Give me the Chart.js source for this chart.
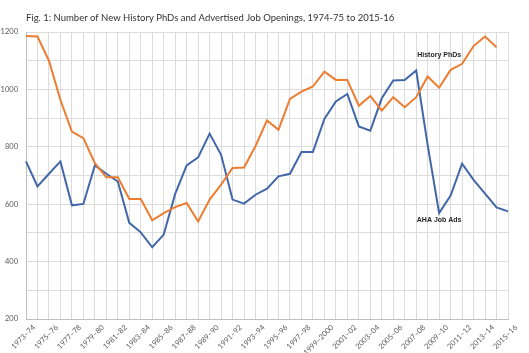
<!DOCTYPE html>
<html>
<head>
<meta charset="utf-8">
<script src="https://cdn.jsdelivr.net/npm/chart.js@4"></script>
<style>
  html, body { margin: 0; padding: 0; background: #fff; }
  #wrap { width: 529px; height: 353px; }
</style>
</head>
<body>
<div id="wrap"><canvas id="jobsChart"></canvas></div>
<script>
// Academic years on the x axis
const years = [
  "1973–74", "1974–75", "1975–76", "1976–77", "1977–78", "1978–79", "1979–80", "1980–81",
  "1981–82", "1982–83", "1983–84", "1984–85", "1985–86", "1986–87", "1987–88", "1988–89",
  "1989–90", "1990–91", "1991–92", "1992–93", "1993–94", "1994–95", "1995–96", "1996–97",
  "1997–98", "1998–99", "1999–2000", "2000–01", "2001–02", "2002–03", "2003–04", "2004–05",
  "2005–06", "2006–07", "2007–08", "2008–09", "2009–10", "2010–11", "2011–12", "2012–13",
  "2013–14", "2014–15", "2015–16"
];

// New history PhDs (ends 2014-15)
const phds = [
  1186, 1184, 1100, 963, 853, 830, 743, 694, 694, 618, 618, 544, 569, 590, 604, 540,
  616, 668, 726, 728, 803, 892, 859, 967, 992, 1010, 1062, 1033, 1033, 943, 977, 926,
  973, 938, 973, 1045, 1006, 1068, 1089, 1151, 1184, 1147, null
];

// AHA job ads
const jobAds = [
  749, 662, 706, 749, 596, 601, 735, 706, 679, 535, 502, 450, 494, 636, 735, 763,
  846, 772, 616, 602, 633, 654, 697, 706, 782, 782, 897, 958, 984, 871, 856, 969,
  1031, 1033, 1066, 806, 569, 630, 741, 685, 637, 589, 575
];

const titleText = "Fig. 1: Number of New History PhDs and Advertised Job Openings, 1974-75 to 2015-16";

// Series name labels placed on the plot (category index, value)
const noteText = ["History PhDs", "AHA Job Ads"];
const noteIndex = [36, 36];
const noteValue = [1118, 544];

// title drawn flush with the plot's left edge, plus the series labels
const chartText = {
  id: 'chartText',
  afterDatasetsDraw(chart) {
    const { ctx, scales, chartArea } = chart;
    ctx.save();
    ctx.font = '9.5px Lato, "Open Sans", sans-serif';
    ctx.fillStyle = '#333333';
    ctx.textAlign = 'left';
    ctx.textBaseline = 'middle';
    ctx.fillText(titleText, chartArea.left, 18);

    ctx.font = 'bold 7px "Liberation Sans", Arial, sans-serif';
    ctx.fillStyle = '#262626';
    ctx.textAlign = 'center';
    noteText.forEach((t, i) => {
      ctx.fillText(t, scales.x.getPixelForValue(noteIndex[i]), scales.y.getPixelForValue(noteValue[i]));
    });
    ctx.restore();
  }
};

new Chart(document.getElementById('jobsChart'), {
  type: 'line',
  data: {
    labels: years,
    datasets: [
      { label: "History PhDs", data: phds, borderColor: "#ED7D31", borderWidth: 2, pointRadius: 0, tension: 0 },
      { label: "AHA Job Ads", data: jobAds, borderColor: "#4267A8", borderWidth: 2, pointRadius: 0, tension: 0 }
    ]
  },
  options: {
    responsive: true,
    maintainAspectRatio: false,
    animation: false,
    layout: { padding: { left: 0, right: 21, top: 32, bottom: 0 } },
    plugins: {
      legend: { display: false },
      tooltip: { enabled: false },
      title: { display: false }
    },
    scales: {
      x: {
        offset: false,
        grid: { color: '#dcdcdc', drawTicks: false, offset: false },
        border: { color: '#bfbfbf' },
        ticks: {
          autoSkip: false,
          maxRotation: 45,
          minRotation: 45,
          padding: 4,
          labelOffset: 8,
          color: '#595959',
          font: { family: 'Lato, "Open Sans", sans-serif', size: 7.5 },
          callback: (v, i) => (i % 2 === 0 ? years[i] : '')
        },
        afterFit: (s) => { s.height = 34; }
      },
      y: {
        min: 200,
        max: 1200,
        grid: { color: '#dcdcdc', drawTicks: false },
        border: { color: '#bfbfbf' },
        ticks: {
          stepSize: 100,
          padding: 8,
          color: '#595959',
          font: { family: 'Lato, "Open Sans", sans-serif', size: 7.5 },
          callback: (v) => (v % 200 === 0 ? v : '')
        },
        afterFit: (s) => { s.width = 26; }
      }
    }
  },
  plugins: [chartText]
});
</script>
</body>
</html>
